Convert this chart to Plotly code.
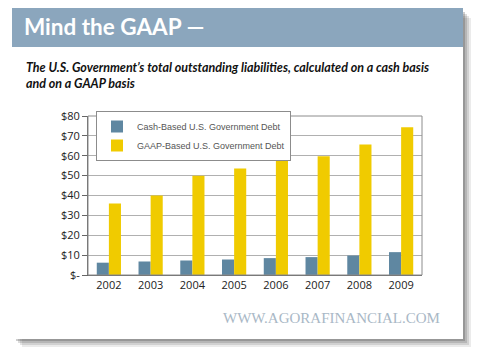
import plotly.graph_objects as go

years = ["2002", "2003", "2004", "2005", "2006", "2007", "2008", "2009"]
cash_debt = [6.2, 6.8, 7.3, 7.8, 8.5, 9.0, 9.8, 11.5]
gaap_debt = [36.0, 40.0, 50.0, 53.6, 58.3, 59.8, 65.6, 74.4]
tick_vals = [0, 10, 20, 30, 40, 50, 60, 70, 80]
tick_text = ["$-", "$10", "$20", "$30", "$40", "$50", "$60", "$70", "$80"]

W, H = 484, 359
L, R, T, B = 88, 422, 116, 275  # plot area pixel box


def px(x):
    return (x - L) / (R - L)


def py(y):
    return (B - y) / (B - T)


fig = go.Figure()
fig.add_trace(go.Bar(x=years, y=cash_debt, name="Cash-Based U.S. Government Debt",
                     marker=dict(color="#5f87a1", line=dict(width=0))))
fig.add_trace(go.Bar(x=years, y=gaap_debt, name="GAAP-Based U.S. Government Debt",
                     marker=dict(color="#f0cb00", line=dict(width=0))))

shapes = []
# shadow
for i, op in enumerate([0.10, 0.14, 0.18, 0.25]):
    d = 8 - 2 * i
    shapes.append(dict(type="rect", xref="paper", yref="paper", layer="below",
                       x0=px(14 + d), x1=px(463 + d), y0=py(10 + d), y1=py(339 + d),
                       fillcolor=f"rgba(60,60,60,{op})", line=dict(width=0)))
# card
shapes.append(dict(type="rect", xref="paper", yref="paper", layer="below",
                   x0=px(12), x1=px(463), y0=py(8), y1=py(339),
                   fillcolor="white", line=dict(width=0)))
# header band
shapes.append(dict(type="rect", xref="paper", yref="paper", layer="below",
                   x0=px(12), x1=px(463), y0=py(8), y1=py(47),
                   fillcolor="#8ba6bd", line=dict(width=0)))
# plot frame (top and right)
shapes.append(dict(type="rect", xref="paper", yref="paper", layer="above",
                   x0=0, x1=1, y0=0, y1=1, line=dict(color="#8c8c8c", width=1)))

annotations = [
    dict(text="<b>Mind the GAAP —</b>", xref="paper", yref="paper",
         x=px(22), y=py(27), xanchor="left", yanchor="middle", showarrow=False,
         font=dict(family="Lato", size=22.5, color="white")),
    dict(text="<b><i>The U.S. Government’s total outstanding liabilities, calculated on a cash basis<br>and on a GAAP basis</i></b>",
         xref="paper", yref="paper", x=px(24), y=py(58), xanchor="left", yanchor="top",
         align="left", showarrow=False,
         font=dict(family="Lato", size=12.5, color="#111")),
    dict(text="WWW.AGORAFINANCIAL.COM", xref="paper", yref="paper",
         x=px(442), y=py(318), xanchor="right", yanchor="middle", showarrow=False,
         font=dict(family="Liberation Serif", size=15, color="#a9b8c6")),
]

fig.update_layout(
    width=W, height=H,
    margin=dict(l=L, r=W - R, t=T, b=H - B, pad=0),
    paper_bgcolor="white", plot_bgcolor="white",
    barmode="group", bargap=0.42, bargroupgap=0,
    showlegend=True,
    legend=dict(x=px(96), y=py(111), xanchor="left", yanchor="top",
                bgcolor="white", bordercolor="#8c8c8c", borderwidth=1,
                font=dict(family="Liberation Sans", size=9, color="#555"),
                tracegroupgap=0, itemwidth=30),
    font=dict(family="Open Sans", size=11, color="#333"),
    xaxis=dict(showgrid=False, showline=True, linecolor="#666", linewidth=1,
               ticks="", tickfont=dict(size=11, color="#222")),
    yaxis=dict(range=[0, 80], tickvals=tick_vals, ticktext=tick_text,
               showgrid=True, gridcolor="#b0b0b0", gridwidth=1,
               showline=True, linecolor="#666", linewidth=1,
               ticks="outside", ticklen=5, tickcolor="#666",
               tickfont=dict(size=11, color="#222"), zeroline=False),
    shapes=shapes, annotations=annotations,
)

fig.write_html("out.html", config={"displayModeBar": False},
               post_script=["document.body.style.margin='0';"])
